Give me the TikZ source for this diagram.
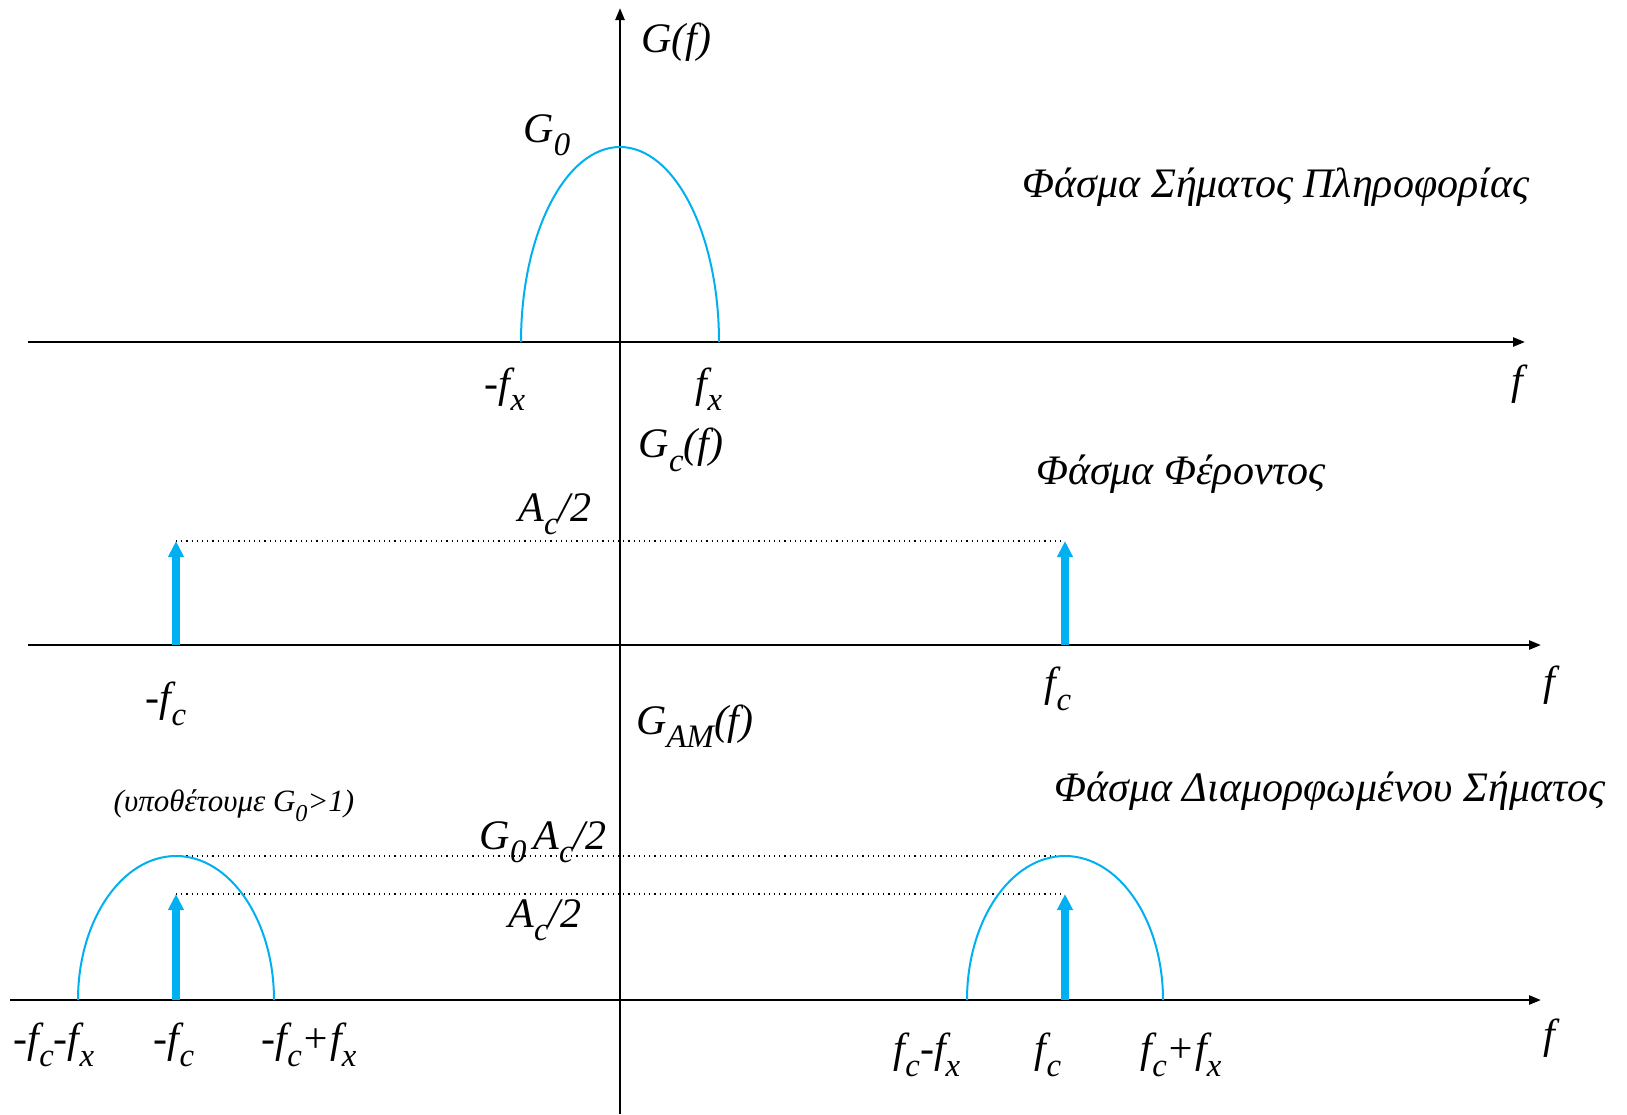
\documentclass[tikz,border=0pt]{standalone}
\usepackage{fontspec}
\usepackage{graphicx}
\setmainfont{Liberation Serif}
\usetikzlibrary{arrows.meta}
\definecolor{skyblue}{RGB}{0,176,240}
\newcommand{\sub}[1]{\raisebox{-0.32em}{\scalebox{0.78}{#1}}}

\begin{document}
\begin{tikzpicture}[
        x=0.5pt, y=-0.5pt,
        axis/.style={line width=1.2pt, -{Triangle[length=6pt, width=4.5pt]}}, % 坐标轴
        lobe/.style={draw=skyblue, line width=1pt}, % 频谱曲线
        impulse/.style={draw=skyblue, line width=3.6pt, -{Triangle[length=8pt, width=7.5pt]}}, % 冲激
        guide/.style={dotted, line width=0.6pt},
        lbl/.style={font=\itshape\fontsize{21}{24}\selectfont, inner sep=0pt},
        note/.style={font=\itshape\fontsize{15.5}{18}\selectfont, inner sep=0pt}
    ]
    \useasboundingbox (0,0) rectangle (1627,1114);

    % 纵轴
    \coordinate (O) at (620,1114);
    \coordinate (Y) at (620,8);
    \draw[axis] (O) -- (Y);

    % 第一行: G(f)
    \coordinate (L1) at (28,342);
    \coordinate (R1) at (1525,342);
    \draw[axis] (L1) -- (R1);
    \coordinate (M1) at (521,342);
    \draw[lobe] (M1) arc[start angle=180, end angle=360, x radius=99, y radius=195];
    \node[lbl] (Gf) at (676,42) {G(f)};
    \node[lbl] (G0) at (547,135) {G\sub{0}};
    \node[lbl] (mfx) at (505,389) {-f\sub{x}};
    \node[lbl] (pfx) at (709,389) {f\sub{x}};
    \node[lbl] (f1) at (1517,384) {f};
    \node[lbl] (t1) at (1276,187) {Φάσμα Σήματος Πληροφορίας};

    % 第二行: G_c(f)
    \coordinate (L2) at (28,645);
    \coordinate (R2) at (1541,645);
    \draw[axis] (L2) -- (R2);
    \coordinate (Cn) at (176,645);
    \coordinate (Cp) at (1065,645);
    \coordinate (Cnt) at (176,541);
    \coordinate (Cpt) at (1065,541);
    \draw[guide] (Cnt) -- (Cpt);
    \draw[impulse] (Cn) -- (Cnt);
    \draw[impulse] (Cp) -- (Cpt);
    \node[lbl] (Gcf) at (681,450) {G\sub{c}(f)};
    \node[lbl] (Ac1) at (555,514) {A\sub{c}/2};
    \node[lbl] (mfc1) at (166,704) {-f\sub{c}};
    \node[lbl] (pfc1) at (1058,689) {f\sub{c}};
    \node[lbl] (f2) at (1549,685) {f};
    \node[lbl] (t2) at (1181,474) {Φάσμα Φέροντος};

    % 第三行: G_AM(f)
    \coordinate (L3) at (10,1000);
    \coordinate (R3) at (1541,1000);
    \draw[axis] (L3) -- (R3);
    \coordinate (Dn) at (176,1000);
    \coordinate (Dp) at (1065,1000);
    \coordinate (Dnt) at (176,894);
    \coordinate (Dpt) at (1065,894);
    \coordinate (Pn) at (176,856);
    \coordinate (Pp) at (1065,856);
    \draw[guide] (Pn) -- (Pp);
    \draw[guide] (Dnt) -- (Dpt);
    \draw[lobe] (78,1000) arc[start angle=180, end angle=360, x radius=98, y radius=144];
    \draw[lobe] (967,1000) arc[start angle=180, end angle=360, x radius=98, y radius=144];
    \draw[impulse] (Dn) -- (Dnt);
    \draw[impulse] (Dp) -- (Dpt);
    \node[lbl] (GAMf) at (695,726) {G\sub{AM}(f)};
    \node[lbl] (GAc) at (543,842) {G\sub{0}\,A\sub{c}/2};
    \node[lbl] (Ac2) at (545,920) {A\sub{c}/2};
    \node[note] (hyp) at (234,806) {(υποθέτουμε G\sub{0}>1)};
    \node[lbl] (a1) at (54,1045) {-f\sub{c}-f\sub{x}};
    \node[lbl] (a2) at (174,1045) {-f\sub{c}};
    \node[lbl] (a3) at (309,1045) {-f\sub{c}+f\sub{x}};
    \node[lbl] (b1) at (927,1055) {f\sub{c}-f\sub{x}};
    \node[lbl] (b2) at (1048,1055) {f\sub{c}};
    \node[lbl] (b3) at (1181,1055) {f\sub{c}+f\sub{x}};
    \node[lbl] (f3) at (1549,1038) {f};
    \node[lbl] (t3) at (1330,791) {Φάσμα Διαμορφωμένου Σήματος};
\end{tikzpicture}
\end{document}
